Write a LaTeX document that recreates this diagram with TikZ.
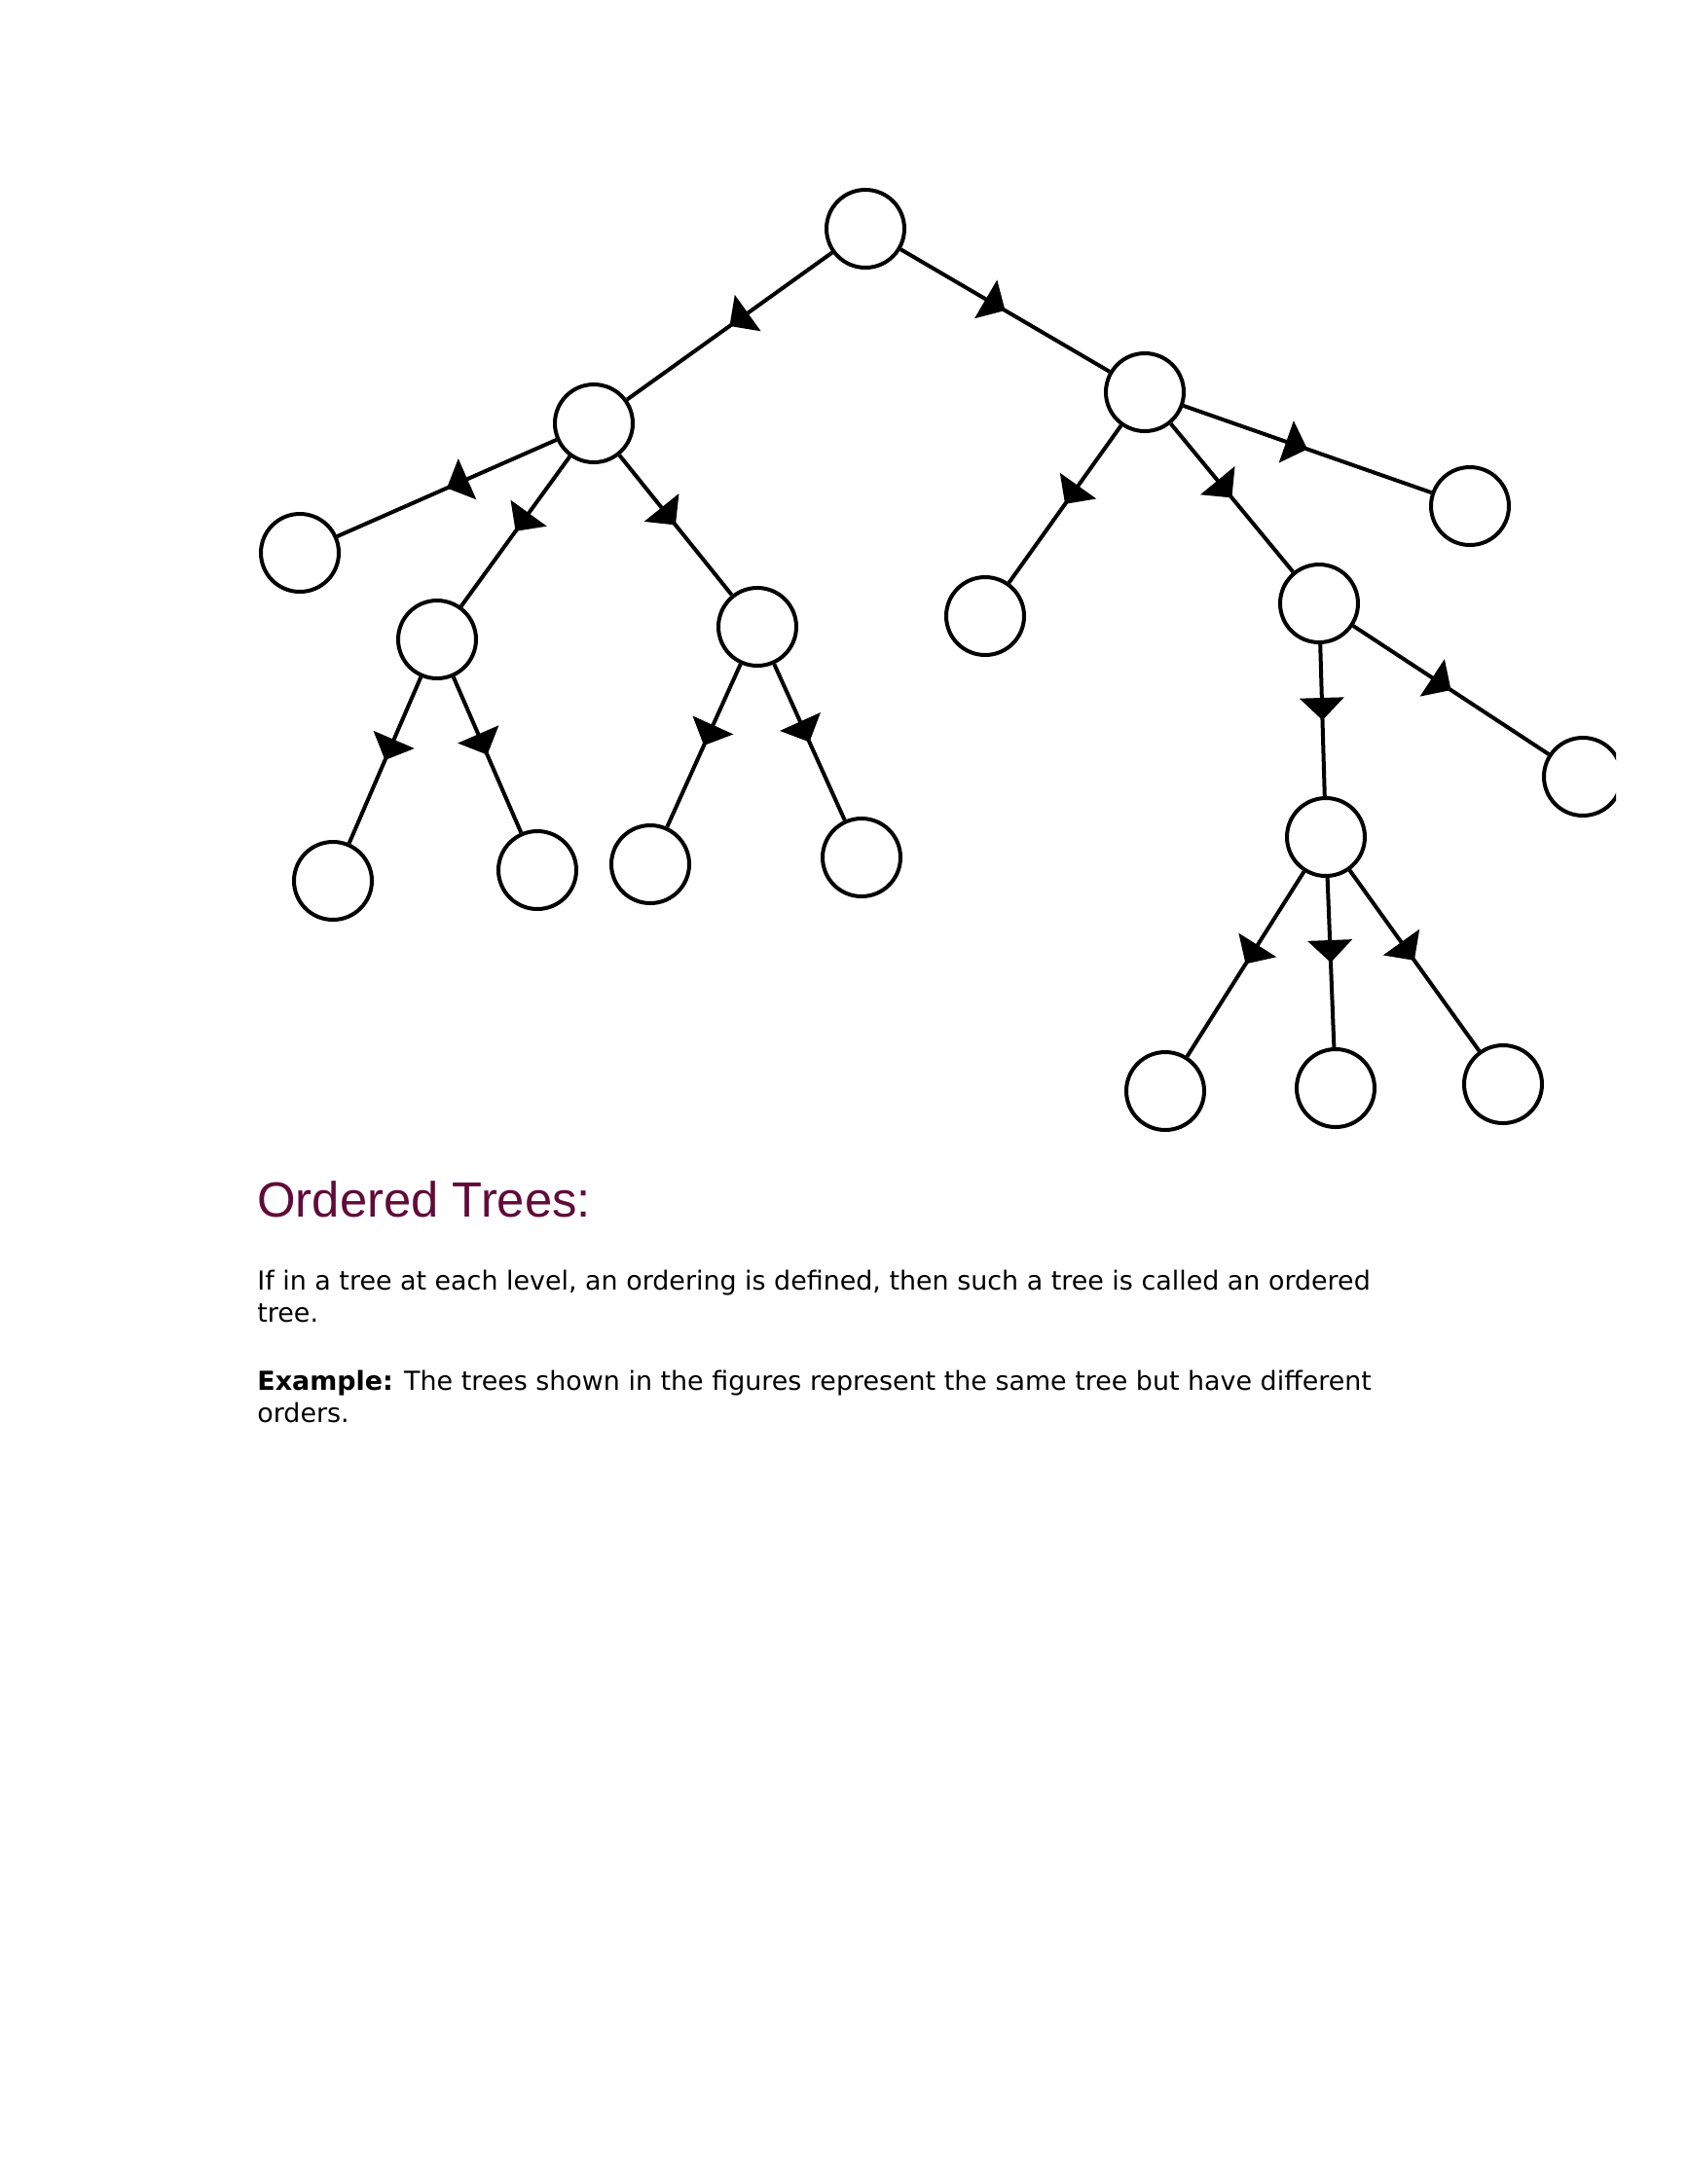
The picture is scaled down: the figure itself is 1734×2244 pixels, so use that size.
\documentclass[tikz,border=0pt]{standalone}
\usepackage{fontspec}
\usetikzlibrary{decorations.markings}
\newfontfamily\bodyfont{DejaVu Sans}
\newfontfamily\headfont{Liberation Sans}
\definecolor{headcol}{HTML}{610B38}
\tikzset{
  vert/.style={circle, draw=black, line width=2pt, minimum size=40pt, inner sep=0pt, fill=white},
  treeedge/.style={line width=2pt, postaction={decorate},
    decoration={markings, mark=at position 0.5 with {\fill[black] (0pt,0pt) -- (-11.5pt,11.5pt) -- (-11.5pt,-11.5pt) -- cycle;}}},
  bodytext/.style={anchor=base west, inner sep=0pt, font=\bodyfont\fontsize{13.45pt}{16pt}\selectfont},
  headtext/.style={anchor=base west, inner sep=0pt, text=headcol, font=\headfont\fontsize{25.4pt}{30pt}\selectfont}
}
\begin{document}
\begin{tikzpicture}[x=0.5pt, y=-0.5pt]
\useasboundingbox (0,0) rectangle (1734,2244);
\fill[white] (0,0) rectangle (1734,2244);
\begin{scope}
\clip (0,0) rectangle (1660,2244);
% nodes
\node[vert] (R)    at (889,235)  {};
\node[vert] (A)    at (610,435)  {};
\node[vert] (B)    at (1176,403) {};
\node[vert] (A1)   at (308,568)  {};
\node[vert] (A2)   at (449,657)  {};
\node[vert] (A3)   at (778,644)  {};
\node[vert] (A2a)  at (342,905)  {};
\node[vert] (A2b)  at (552,894)  {};
\node[vert] (A3a)  at (668,888)  {};
\node[vert] (A3b)  at (885,881)  {};
\node[vert] (B1)   at (1012,633) {};
\node[vert] (B2)   at (1355,620) {};
\node[vert] (B3)   at (1510,520) {};
\node[vert] (B2a)  at (1362,860) {};
\node[vert] (B2b)  at (1626,798) {};
\node[vert] (B2a1) at (1197,1121) {};
\node[vert] (B2a2) at (1372,1118) {};
\node[vert] (B2a3) at (1544,1114) {};
% edges
\draw[treeedge] (R) -- (A);
\draw[treeedge] (R) -- (B);
\draw[treeedge] (A) -- (A1);
\draw[treeedge] (A) -- (A2);
\draw[treeedge] (A) -- (A3);
\draw[treeedge] (A2) -- (A2a);
\draw[treeedge] (A2) -- (A2b);
\draw[treeedge] (A3) -- (A3a);
\draw[treeedge] (A3) -- (A3b);
\draw[treeedge] (B) -- (B1);
\draw[treeedge] (B) -- (B2);
\draw[treeedge] (B) -- (B3);
\draw[treeedge] (B2) -- (B2a);
\draw[treeedge] (B2) -- (B2b);
\draw[treeedge] (B2a) -- (B2a1);
\draw[treeedge] (B2a) -- (B2a2);
\draw[treeedge] (B2a) -- (B2a3);
\end{scope}
% text
\node[headtext] (head) at (264,1250) {Ordered Trees:};
\node[bodytext] (l1) at (264,1325) {If in a tree at each level, an ordering is defined, then such a tree is called an ordered};
\node[bodytext] (l2) at (264,1358) {tree.};
\node[bodytext] (l3) at (264,1428) {{\bfseries Example:} The trees shown in the figures represent the same tree but have different};
\node[bodytext] (l4) at (264,1461) {orders.};
\end{tikzpicture}
\end{document}
